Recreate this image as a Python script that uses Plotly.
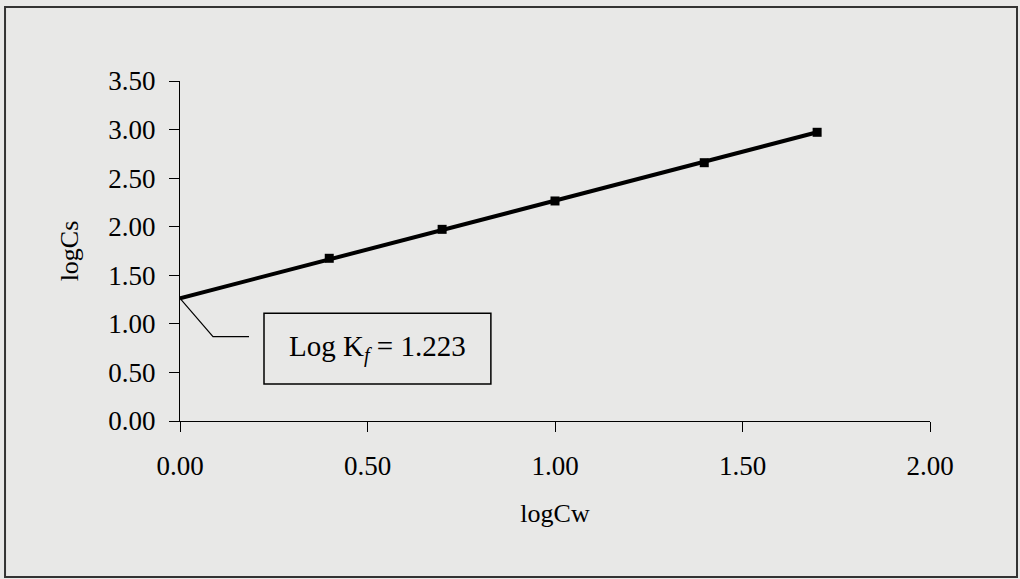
import plotly.graph_objects as go

# Data
log_cw = [0.398, 0.699, 1.000, 1.398, 1.699]
log_cs = [1.675, 1.973, 2.265, 2.659, 2.972]

# Fitted trendline (extended back to the y axis)
trend_x = [0.0, 1.699]
trend_y = [1.263, 2.972]

x_ticks = [0.0, 0.5, 1.0, 1.5, 2.0]
y_ticks = [0.0, 0.5, 1.0, 1.5, 2.0, 2.5, 3.0, 3.5]

label_text = "Log K<sub><i>f</i></sub> = 1.223"

FONT = "Liberation Serif, Times New Roman, serif"
BG = "#e8e8e7"

fig = go.Figure()
fig.add_trace(go.Scatter(x=trend_x, y=trend_y, mode="lines",
                         line=dict(color="black", width=4), showlegend=False,
                         hoverinfo="skip"))
fig.add_trace(go.Scatter(x=log_cw, y=log_cs, mode="markers",
                         marker=dict(symbol="square", size=9, color="black"),
                         showlegend=False))

# callout line from intercept to label box
fig.add_shape(type="path",
              path="M 0,1.263 L 0.088,0.868 L 0.184,0.868",
              line=dict(color="black", width=1.2), xref="x", yref="y")
# label box
fig.add_shape(type="rect", x0=0.224, x1=0.829, y0=0.381, y1=1.109,
              line=dict(color="black", width=1.5), fillcolor="rgba(0,0,0,0)",
              xref="x", yref="y")
fig.add_annotation(x=0.5265, y=0.745, text=label_text, showarrow=False,
                   font=dict(family=FONT, size=29, color="black"),
                   xref="x", yref="y")

# outer frame
fig.add_shape(type="rect", xref="paper", yref="paper",
              x0=-0.2333, x1=1.116, y0=-0.4588, y1=1.2176,
              line=dict(color="#333333", width=2), layer="below")

fig.update_xaxes(range=[0, 2], tickvals=x_ticks,
                 ticktext=[f"{v:.2f}" for v in x_ticks],
                 showgrid=False, zeroline=False, showline=True,
                 linecolor="black", linewidth=1.2,
                 ticks="outside", ticklen=10, tickcolor="black",
                 ticklabelstandoff=10,
                 tickfont=dict(family=FONT, size=27, color="black"),
                 title=dict(text="logCw", standoff=24,
                            font=dict(family=FONT, size=26, color="black")))
fig.update_yaxes(range=[0, 3.5], tickvals=y_ticks,
                 ticktext=[f"{v:.2f}" for v in y_ticks],
                 showgrid=False, zeroline=False, showline=True,
                 linecolor="black", linewidth=1.2,
                 ticks="outside", ticklen=10, tickcolor="black",
                 ticklabelstandoff=8,
                 tickfont=dict(family=FONT, size=27, color="black"),
                 title=dict(text="logCs", standoff=22,
                            font=dict(family=FONT, size=26, color="black")))

fig.update_layout(width=1020, height=579,
                  margin=dict(l=180, r=90, t=81, b=158),
                  paper_bgcolor=BG, plot_bgcolor=BG)

fig.write_html("out.html")
